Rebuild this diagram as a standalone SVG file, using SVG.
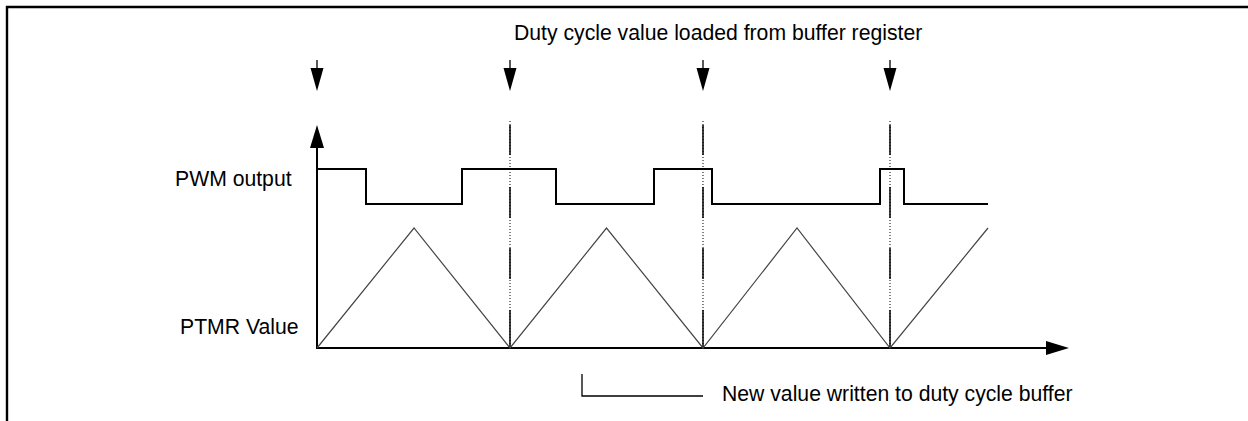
<svg xmlns="http://www.w3.org/2000/svg" width="1248" height="421" viewBox="0 0 1248 421">
<style>
  .lbl { font-family: "Liberation Sans", Arial, sans-serif; font-size: 21.2px; fill: #000; }
  .frame { stroke: #000; stroke-width: 2.4; fill: none; }
  .axis { stroke: #000; stroke-width: 2; fill: none; }
  .pwm { stroke: #000; stroke-width: 2; fill: none; stroke-linejoin: miter; }
  .tri { stroke: #444; stroke-width: 1.2; fill: none; }
  .dot { stroke: #000; stroke-width: 1; stroke-dasharray: 1 2; fill: none; }
  .dash { stroke: #000; stroke-width: 1.5; fill: none; }
  .thin { stroke: #000; stroke-width: 1.3; fill: none; }
  .head { fill: #000; stroke: none; }
</style>
<defs>
  <g id="down-arrow">
    <line x1="0" y1="60" x2="0" y2="70" class="thin"/>
    <path d="M -6.5 68 L 6.5 68 L 0 91 Z" class="head"/>
  </g>
  <g id="sync-line">
    <line x1="0" y1="121" x2="0" y2="348" class="dot"/>
    <path d="M0 125 V155 M0 187 V218 M0 248 V279 M0 310 V348" class="dash"/>
  </g>
</defs>
<rect width="1248" height="421" fill="#fff"/>
<g id="frame">
  <path d="M7 421 V7 H1248" class="frame"/>
</g>
<g id="title-label">
  <text x="514" y="40" class="lbl">Duty cycle value loaded from buffer register</text>
</g>
<g id="pwm-label">
  <text x="175" y="186" class="lbl">PWM output</text>
</g>
<g id="ptmr-label">
  <text x="180" y="334" class="lbl">PTMR Value</text>
</g>
<g id="buffer-label">
  <text x="722" y="401" class="lbl">New value written to duty cycle buffer</text>
</g>
<g id="load-arrows">
  <use href="#down-arrow" x="317" y="0"/>
  <use href="#down-arrow" x="510" y="0"/>
  <use href="#down-arrow" x="703" y="0"/>
  <use href="#down-arrow" x="890" y="0"/>
</g>
<g id="sync-lines">
  <use href="#sync-line" x="510" y="0"/>
  <use href="#sync-line" x="703" y="0"/>
  <use href="#sync-line" x="890" y="0"/>
</g>
<g id="axes">
  <line x1="317" y1="349" x2="317" y2="145" class="axis"/>
  <path d="M310 148 L324 148 L317 125 Z" class="head"/>
  <line x1="316" y1="348" x2="1048" y2="348" class="axis"/>
  <path d="M1046 341 L1046 355 L1069 348 Z" class="head"/>
</g>
<g id="ptmr-wave">
  <polyline points="317,348 414,228 510,348 606.5,228 703,348 797,228 890,348 988,228" class="tri"/>
</g>
<g id="pwm-wave">
  <polyline points="317,169 366,169 366,204 462,204 462,169 556,169 556,204 654,204 654,169 712,169 712,204 880,204 880,169 904,169 904,204 988,204" class="pwm"/>
</g>
<g id="connectors">
  <polyline points="582,374 582,396 703,396" class="thin"/>
</g>
</svg>
